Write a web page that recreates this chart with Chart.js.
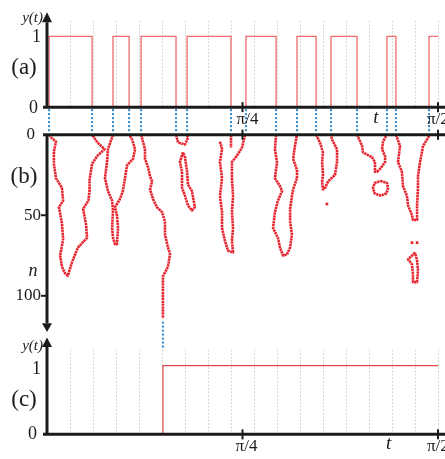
<!DOCTYPE html>
<html><head><meta charset="utf-8">
<script src="https://cdn.jsdelivr.net/npm/chart.js@4"></script>
<style>html,body{margin:0;padding:0;background:#fff;overflow:hidden}
#wrap{position:relative;width:445px;height:459px}</style>
</head><body><div id="wrap"><canvas id="c" width="445" height="459"></canvas></div>
<script>
// Positions along t are given in grid units of pi/34 (pi/4 = 8.5, pi/2 = 17)
const U = Math.PI / 34;

// (a) switching times and the level y(t) takes after each switch
const switchA = [0.09, 1.96, 2.87, 3.57, 4.09, 5.61, 6.09, 8.0, 8.65, 9.96, 10.87, 11.70, 12.35, 13.48, 14.78, 15.17, 16.61];
const levelA  = [1, 0, 1, 0, 1, 0, 1, 0, 1, 0, 1, 0, 1, 0, 1, 0, 1];

// (c) switching time and level
const switchC = [5.04];
const levelC  = [1];

// (b) fronts: [t (grid units), n]
const front1 = [[0.09,0],[0.2,2],[0.39,4.3],[0.30,10.4],[0.30,18],[0.39,27],[0.65,33],[0.70,41],[0.52,45],[0.65,55],[0.70,65],[0.57,75],[0.65,82],[0.78,86],[0.91,87.5],[1.09,79],[1.35,70],[1.74,64],[1.7,56],[1.57,46],[1.8,41],[1.85,35],[1.85,28],[1.96,18],[2.2,13],[2.5,9],[2.2,5],[1.96,0]];
const front2 = [[2.87,0],[2.65,9],[2.61,17],[2.52,27],[2.65,35],[2.83,41],[2.87,47],[2.83,58],[2.87,64],[2.96,68],[3.04,68],[3.09,58],[3.04,50],[2.96,45],[3.17,40],[3.30,35],[3.39,27],[3.48,19],[3.74,15],[3.83,9],[3.70,3],[3.57,0]];
const front3 = [[4.09,0],[4.13,2],[4.26,9],[4.26,15],[4.39,20],[4.48,26],[4.57,29],[4.48,34],[4.61,40],[4.78,45],[5.0,48],[5.13,54],[5.13,62],[5.26,70],[5.35,74],[5.26,82],[5.04,88],[5.04,99],[5.04,107],[5.04,114]];
const front4 = [[5.61,0],[5.70,4.9],[6.0,6.1],[6.13,1.8],[6.09,0]];
const island4 = [[5.91,11],[5.78,17],[5.87,23],[5.87,33],[6.0,38],[6.13,44],[6.30,47],[6.43,45],[6.30,35],[6.13,31],[6.09,23],[6.0,14],[5.91,11]];
const front5 = [[7.52,4.3],[7.61,9],[7.52,17],[7.61,27],[7.52,38],[7.61,48],[7.61,58],[7.74,66],[7.87,72],[8.09,73],[8.04,66],[8.09,58],[8.04,48],[8.09,38],[8.04,27],[8.04,17],[8.26,13],[8.48,8],[8.61,0]];
const stub5 = [[8.0,0],[8.0,8]];
const front6 = [[9.96,0],[9.91,9],[10.0,17],[9.91,27],[10.13,32],[10.22,35],[10.04,41],[9.91,48],[9.83,58],[10.04,64],[10.13,70],[10.26,75],[10.43,74.4],[10.57,70],[10.65,62],[10.57,54],[10.57,46],[10.65,38],[10.70,34],[10.87,27],[10.87,22],[10.70,15],[10.78,7],[10.87,0]];
const front7 = [[11.70,0],[11.87,5],[12.0,11],[11.96,17],[12.0,25],[11.96,29],[12.0,34],[12.09,33],[12.22,29],[12.52,25],[12.61,17],[12.61,9],[12.39,3],[12.35,0]];
const front8 = [[13.48,0],[13.70,7],[13.74,11],[14.13,14],[14.26,17],[14.26,23],[14.35,23],[14.48,21.3],[14.70,17],[14.70,13.5],[14.57,9],[14.61,4.3],[14.78,0]];
const island8 = [[14.5,28.7],[14.78,30],[14.83,33.2],[14.75,36.5],[14.5,37.8],[14.25,36.5],[14.17,33.2],[14.25,30],[14.5,28.7]];
const front9 = [[15.17,0],[15.35,7],[15.26,17],[15.43,23],[15.48,32],[15.65,38],[15.70,44],[15.87,50],[15.91,53],[16.09,53],[16.09,44],[16.13,33],[16.13,25.6],[16.22,17],[16.35,7],[16.65,0]];
const island9 = [[16.0,73.2],[15.70,77.4],[15.87,80.5],[15.91,86.6],[15.91,91.5],[16.09,91.5],[16.13,84.1],[16.09,78],[16.0,73.2]];
const dotsB = [[12.17,43],[15.87,67],[16.09,67]];

// ticks
const xTickVals = [8.5, 17];
const xTickLabels = ['π/4', 'π/2'];
const yTicksA = [0, 1];
const nTicks = [0, 50, 100];
const nTickMarks = [50, 100];
const yTicksC = [0, 1];

const RED_B = '#e6222c';
function stepPts(sw, lv){
  const p = [{x:0, y:0}];
  sw.forEach((s,i)=>p.push({x:s*U, y:lv[i]}));
  p.push({x:17*U, y:lv[lv.length-1]});
  return p;
}
const toXY = arr => arr.map(([u,n]) => ({x:u*U, y:n}));
const curves = [front1, front2, front3, front4, island4, front5, stub5, front6, front7, front8, island8, front9, island9];

const datasets = [
  {data: stepPts(switchA, levelA), yAxisID:'ya', stepped:'before', borderColor:'#f06a6e', borderWidth:1.3, pointRadius:0},
  {data: stepPts(switchC, levelC), yAxisID:'yc', stepped:'before', borderColor:'#e04a4a', borderWidth:1.2, pointRadius:0},
  ...curves.map(c => ({data: toXY(c), yAxisID:'yb', borderColor:RED_B, borderWidth:2.6, pointRadius:0, tension:0, borderJoinStyle:'round', borderDash:[2.3,0.6]})),
  {data: toXY(dotsB), yAxisID:'yb', showLine:false, pointStyle:'rect', pointRadius:1.9, backgroundColor:RED_B, borderWidth:0}
];

const SERIF = '"Liberation Serif","DejaVu Serif",serif';
const deco = {
  id:'deco',
  beforeDatasetsDraw(ch){
    const {ctx, scales:{x, ya, yb, yc}} = ch;
    const line=(a,b,c,d)=>{ctx.beginPath();ctx.moveTo(a,b);ctx.lineTo(c,d);ctx.stroke();};
    ctx.save();
    ctx.strokeStyle='#d2cac0'; ctx.lineWidth=1; ctx.setLineDash([1.5,2]);
    for(let k=1;k<=17;k++){
      const px=Math.round(x.getPixelForValue(k*U))+0.5;
      line(px, ya.getPixelForValue(1.22), px, ya.getPixelForValue(0));
      line(px, yc.getPixelForValue(1.23), px, yc.getPixelForValue(0));
    }
    ctx.strokeStyle='#2b87c9'; ctx.lineWidth=2; ctx.setLineDash([2,2]);
    switchA.forEach(s=>{const px=x.getPixelForValue(s*U); line(px, ya.getPixelForValue(0)+2, px, yb.getPixelForValue(0)-2);});
    const pc=x.getPixelForValue(switchC[0]*U);
    line(pc, yb.getPixelForValue(116), pc, yc.getPixelForValue(1.25));
    ctx.restore();
  },
  afterDatasetsDraw(ch){
    const {ctx, scales:{x, ya, yb, yc}} = ch;
    const line=(a,b,c,d)=>{ctx.beginPath();ctx.moveTo(a,b);ctx.lineTo(c,d);ctx.stroke();};
    const tri=(pts)=>{ctx.beginPath();ctx.moveTo(pts[0],pts[1]);ctx.lineTo(pts[2],pts[3]);ctx.lineTo(pts[4],pts[5]);ctx.closePath();ctx.fill();};
    ctx.save();
    ctx.strokeStyle='#1b1b1b'; ctx.fillStyle='#1b1b1b'; ctx.lineWidth=3; ctx.setLineDash([]);
    const x0=x.getPixelForValue(0), xEnd=445;
    // panel a
    const a0=ya.getPixelForValue(0);
    line(x0-4,a0,xEnd,a0);
    line(x0,a0,x0,ya.getPixelForValue(1.2));
    tri([x0,ya.getPixelForValue(1.34), x0-5,ya.getPixelForValue(1.2), x0+5,ya.getPixelForValue(1.2)]);
    // panel b
    const b0=yb.getPixelForValue(0);
    line(x0-4,b0,xEnd,b0);
    line(x0,b0,x0,yb.getPixelForValue(117));
    tri([x0,yb.getPixelForValue(122.5), x0-5,yb.getPixelForValue(117), x0+5,yb.getPixelForValue(117)]);
    // panel c
    const c0=yc.getPixelForValue(0);
    line(x0-4,c0,xEnd,c0);
    line(x0,c0,x0,yc.getPixelForValue(1.27));
    tri([x0,yc.getPixelForValue(1.41), x0-5,yc.getPixelForValue(1.27), x0+5,yc.getPixelForValue(1.27)]);
    // x tick marks
    ctx.lineWidth=2;
    xTickVals.forEach(v=>{const px=x.getPixelForValue(v*U);
      [a0,b0,c0].forEach(yy=>line(px,yy-5,px,yy+5));});
    // n tick marks
    nTickMarks.forEach(v=>{const py=yb.getPixelForValue(v); line(x0-6,py,x0,py);});
    // labels
    ctx.fillStyle='#1b1b1b'; ctx.textBaseline='middle';
    ctx.font='18px '+SERIF; ctx.textAlign='right';
    yTicksA.forEach(v=>ctx.fillText(String(v), v===0?38:41, ya.getPixelForValue(v)+1));
    yTicksC.forEach(v=>ctx.fillText(String(v), v===0?37:41, yc.getPixelForValue(v)+(v===0?0:4)));
    ctx.font='17px '+SERIF;
    nTicks.forEach(v=>ctx.fillText(String(v), v===0?35:41, yb.getPixelForValue(v)));
    ctx.font='italic 15px '+SERIF;
    ctx.fillText('y(t)', 43, ya.getPixelForValue(1.28)+1);
    ctx.fillText('y(t)', 43, yc.getPixelForValue(1.3)+1);
    ctx.font='italic 18px '+SERIF; ctx.textAlign='center';
    ctx.fillText('n', 33, yb.getPixelForValue(85));
    ctx.font='23px '+SERIF;
    ctx.fillText('(a)', 24, ya.getPixelForValue(0.55));
    ctx.fillText('(b)', 24, yb.getPixelForValue(26));
    ctx.fillText('(c)', 24, yc.getPixelForValue(0.5));
    // t-axis labels under panels a and c
    [[a0+12,5],[c0+12,4]].forEach(([yy,dx])=>{
      ctx.font='17px '+SERIF; ctx.textAlign='center';
      ctx.fillText(xTickLabels[0], x.getPixelForValue(xTickVals[0]*U)+dx, yy);
      ctx.textAlign='left';
      ctx.fillText(xTickLabels[1], x.getPixelForValue(xTickVals[1]*U)-11, yy);
    });
    ctx.font='italic 19px '+SERIF; ctx.textAlign='center';
    ctx.fillText('t', x.getPixelForValue(14.3*U), a0+11);
    ctx.fillText('t', x.getPixelForValue(14.85*U), c0+10);
    ctx.restore();
  }
};

new Chart(document.getElementById('c'), {
  type:'line',
  data:{datasets},
  options:{
    responsive:false, animation:false, events:[],
    layout:{padding:{left:47, right:7, top:0, bottom:0}},
    plugins:{legend:{display:false}, tooltip:{enabled:false}},
    scales:{
      x:{type:'linear', min:0, max:Math.PI/2, display:false},
      ya:{type:'linear', min:-4.917, max:1.458, display:false},
      yb:{type:'linear', min:-81.1, max:198.8, reverse:true, display:false},
      yc:{type:'linear', min:-0.3, max:6.257, display:false}
    }
  },
  plugins:[deco]
});
</script></body></html>
